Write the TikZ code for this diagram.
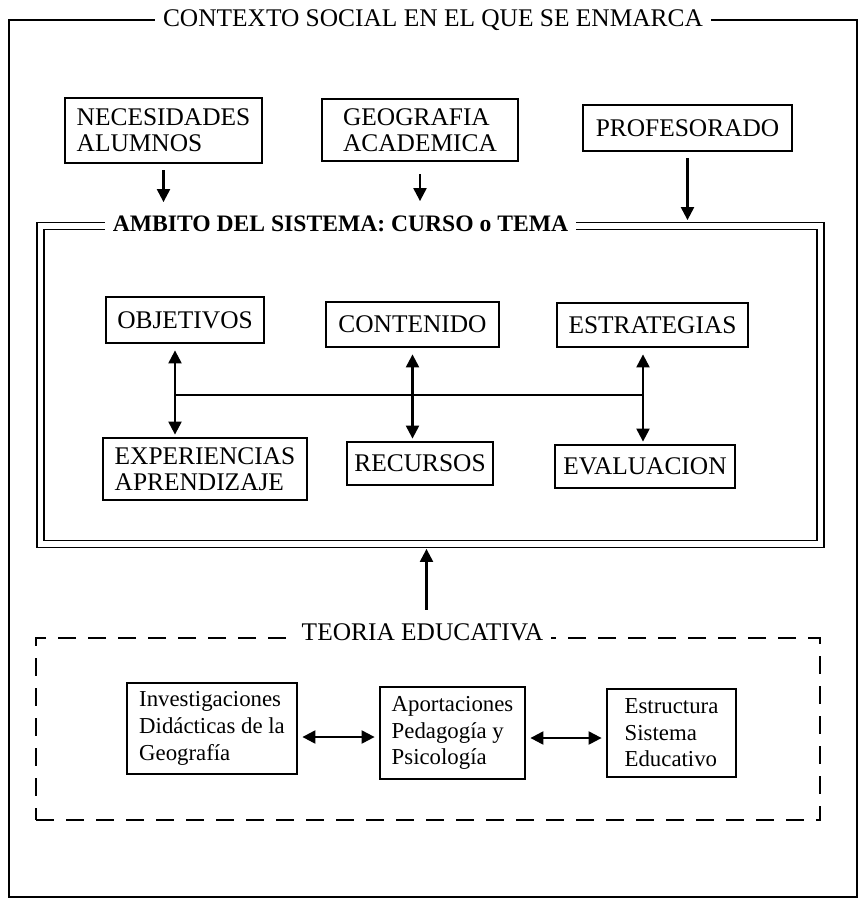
\documentclass[tikz,border=0pt]{standalone}
\usepackage{fontspec}
\setmainfont{Liberation Serif}
\usetikzlibrary{arrows.meta,positioning}
\newcommand{\boxcaps}{\fontsize{12.7pt}{13pt}\selectfont}
\newcommand{\boxtext}{\fontsize{11.4pt}{13.3pt}\selectfont}

\begin{document}
\begin{tikzpicture}[x=0.5pt,y=-0.5pt,font=\boxcaps,
    >={Triangle[length=6.5pt,width=6.5pt]},
    caja/.style={draw,line width=1.4pt,inner sep=2pt,align=left},
    conector/.style={line width=1.1pt},
    titulo/.style={fill=white,inner xsep=4pt,inner ysep=2pt}]

\useasboundingbox (0,0) rectangle (860,903);

% marcos
\node[draw,
    line width=1pt,
    minimum width=424pt,
    minimum height=438.5pt
] (frameCtx) at (433,458.5) {};

\node[draw,
    line width=0.9pt,
    double,
    double distance=2.6pt,
    minimum width=390pt,
    minimum height=159pt
] (frameAmb) at (430.5,385) {};

\node[draw,
    line width=1.1pt,
    dash pattern=on 9pt off 6pt,
    minimum width=392pt,
    minimum height=91pt
] (frameTeo) at (428,729) {};

\node[titulo] (titleCtx) at (433,20) {CONTEXTO SOCIAL EN EL QUE SE ENMARCA};
\node[titulo,font=\fontsize{11.8pt}{13pt}\selectfont\bfseries] (titleAmb) at (340.5,224) {AMBITO DEL SISTEMA: CURSO o TEMA};
\node[titulo,anchor=base] (titleTeo) at (422.5,640) {TEORIA EDUCATIVA};

% contexto
\node[caja,
    minimum width=98.5pt,
    minimum height=32.5pt
] (blockNec) at (163.5,130.5) {NECESIDADES\\ALUMNOS};

\node[caja,
    minimum width=98pt,
    minimum height=31pt
] (blockGeo) at (420,130) {GEOGRAFIA\\ACADEMICA};

\node[caja,
    minimum width=104.5pt,
    minimum height=23pt
] (blockProf) at (687.5,128) {PROFESORADO};

% ambito del sistema
\node[caja,
    minimum width=79pt,
    minimum height=23pt
] (blockObj) at (185,320) {OBJETIVOS};

\node[caja,
    minimum width=86.5pt,
    minimum height=22.5pt
] (blockCont) at (412.5,324.5) {CONTENIDO};

\node[caja,
    minimum width=95.5pt,
    minimum height=22pt
] (blockEstr) at (652.5,325) {ESTRATEGIAS};

\node[caja,
    minimum width=102pt,
    minimum height=31pt
] (blockExp) at (205,469) {EXPERIENCIAS\\APRENDIZAJE};

\node[caja,
    minimum width=73pt,
    minimum height=21.5pt
] (blockRec) at (420,463.5) {RECURSOS};

\node[caja,
    minimum width=90pt,
    minimum height=21.5pt
] (blockEval) at (645,466.5) {EVALUACION};

% teoria educativa
\node[caja,
    font=\boxtext,
    minimum width=85pt,
    minimum height=45.5pt
] (blockInv) at (212,728.5) {Investigaciones\\Didácticas de la\\Geografía};

\node[caja,
    font=\boxtext,
    minimum width=72.5pt,
    minimum height=46pt
] (blockApo) at (452.5,733) {Aportaciones\\Pedagogía y\\Psicología};

\node[caja,
    font=\boxtext,
    minimum width=64.5pt,
    minimum height=44pt
] (blockEst) at (671.5,733) {Estructura\\Sistema\\Educativo};

\coordinate (busL) at (175,395);
\coordinate (busR) at (643,395);

\draw[conector,->,shorten <=3pt,shorten >=11.5pt] (blockNec) -- (blockNec |- frameAmb.north);
\draw[conector,->,shorten <=6pt,shorten >=12pt] (blockGeo) -- (blockGeo |- frameAmb.north);
\draw[conector,->,shorten <=3pt,shorten >=2.5pt] (blockProf) -- (blockProf |- frameAmb.north);

\draw[conector] (busL) -- (busR);
\draw[conector,<->,shorten <=3pt,shorten >=1pt] (blockObj.south -| busL) -- (blockExp.north -| busL);
\draw[conector,<->,shorten <=3pt,shorten >=1pt] (blockCont.south) -- (blockCont.south |- blockRec.north);
\draw[conector,<->,shorten <=3pt,shorten >=1pt] (blockEstr.south -| busR) -- (blockEval.north -| busR);

\draw[conector,->,shorten <=4.5pt,shorten >=2pt] ([xshift=2pt]titleTeo.north) -- ([xshift=2pt]titleTeo.north |- frameAmb.south);

\draw[conector,<->,shorten <=2pt,shorten >=2pt] ([yshift=-4.25pt]blockInv.east) -- ([yshift=-4.25pt]blockInv.east -| blockApo.west);
\draw[conector,<->,shorten <=2pt,shorten >=2pt] ([yshift=-2.5pt]blockApo.east) -- ([yshift=-2.5pt]blockApo.east -| blockEst.west);

\end{tikzpicture}
\end{document}
